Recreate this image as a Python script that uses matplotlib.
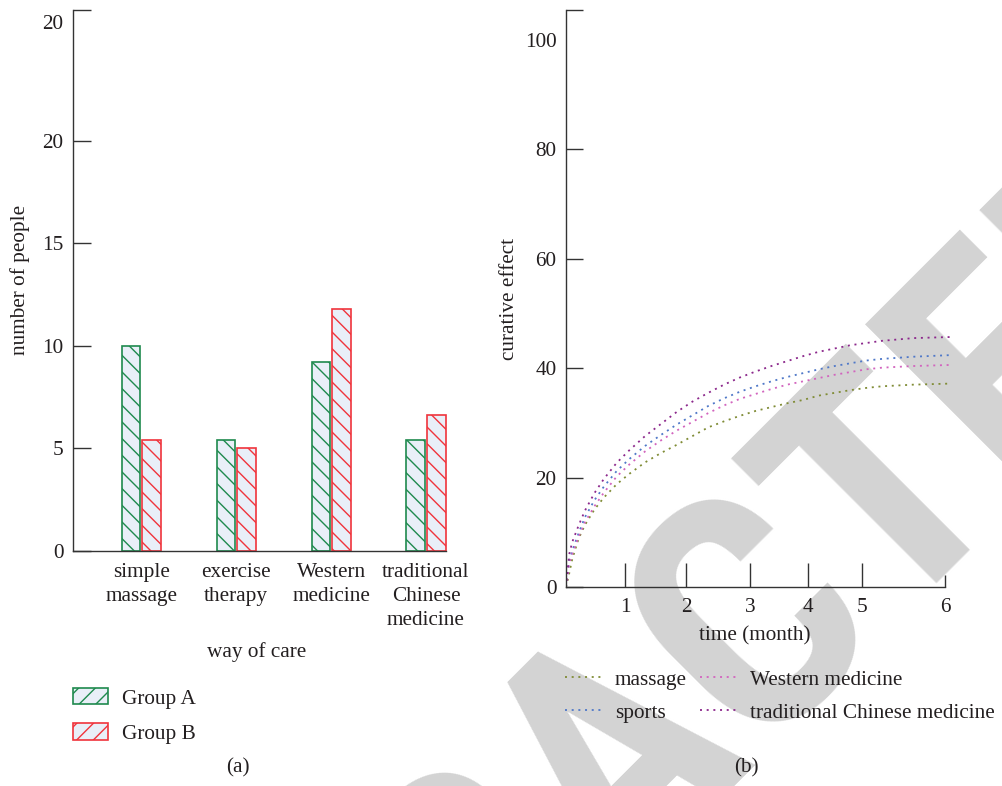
import os
import numpy as np
import matplotlib
matplotlib.use("Agg")
import matplotlib.pyplot as plt
from matplotlib.patches import Patch
from matplotlib import font_manager
from matplotlib.font_manager import FontProperties

plt.rcParams['font.family'] = ['Liberation Serif', 'DejaVu Serif']
plt.rcParams['font.size'] = 15.3
plt.rcParams['hatch.linewidth'] = 1.0
plt.rcParams['text.color'] = '#231f20'
plt.rcParams['axes.labelcolor'] = '#231f20'
plt.rcParams['xtick.color'] = '#333333'
plt.rcParams['ytick.color'] = '#333333'
plt.rcParams['xtick.labelcolor'] = '#231f20'
plt.rcParams['ytick.labelcolor'] = '#231f20'

# ---- panel (a): number of people per way of care ----
care_ways = ['simple\nmassage', 'exercise\ntherapy', 'Western\nmedicine',
             'traditional\nChinese\nmedicine']
group_a = [10.0, 5.4, 9.2, 5.4]
group_b = [5.4, 5.0, 11.8, 6.6]
count_ticks = [0, 5, 10, 15, 20, 25.8]
count_tick_labels = ['0', '5', '10', '15', '20', '20']

# ---- panel (b): curative effect over time ----
months = [0, 0.05, 0.1, 0.2, 0.3, 0.45, 0.6, 0.8, 1.0, 1.25, 1.5, 1.75, 2.0,
          2.25, 2.5, 2.75, 3.0, 3.25, 3.5, 3.75, 4.0, 4.25, 4.5, 4.75, 5.0,
          5.5, 6.1]
massage = [0, 2.5, 5.2, 8.9, 11.4, 14.2, 16.4, 18.8, 20.7, 22.8, 24.5, 26.0,
           27.6, 29.2, 30.3, 31.3, 32.2, 32.9, 33.6, 34.2, 35.0, 35.5, 36.0,
           36.4, 36.7, 37.0, 37.2]
sports = [0, 4.8, 6.7, 9.9, 12.8, 15.9, 18.4, 21.2, 23.4, 25.8, 27.8, 29.7,
          31.4, 33.1, 34.5, 35.7, 36.7, 37.6, 38.4, 39.1, 39.8, 40.4, 40.9,
          41.4, 41.7, 42.1, 42.4]
western = [0, 4.3, 6.1, 9.2, 11.9, 14.8, 17.3, 20.2, 22.4, 24.8, 26.8, 28.6,
           30.2, 31.8, 33.2, 34.4, 35.3, 36.2, 37.0, 37.6, 38.2, 38.8, 39.3,
           39.8, 40.1, 40.4, 40.6]
tcm = [0, 6.0, 8.3, 11.3, 14.0, 17.2, 19.8, 22.7, 25.0, 27.6, 29.8, 32.0,
       33.9, 35.5, 37.0, 38.3, 39.4, 40.4, 41.3, 42.2, 43.0, 43.6, 44.2, 44.6,
       45.0, 45.5, 45.7]
month_ticks = [0.934, 1.905, 2.91, 3.83, 4.69]
month_tick_labels = ['1', '2', '3', '4', '5']
effect_ticks = [0, 20, 40, 60, 80, 100]

GREEN = '#1f8a4e'
RED = '#f0343c'
FILL = '#e9eff8'
AXIS = '#333333'

W, H = 1002, 786
fig = plt.figure(figsize=(W / 100, H / 100), dpi=100)


def stamp_font():
    """Prefer a narrow bold sans for the stamp; fall back to a regular one."""
    for fam, stretch in (('Liberation Sans Narrow', 'normal'), ('Roboto Condensed', 'normal'),
                         ('Arial Narrow', 'normal'), ('Open Sans Condensed', 'normal'),
                         ('Roboto', 'condensed'), ('Noto Sans', 'condensed'),
                         ('DejaVu Sans', 'condensed')):
        try:
            path = font_manager.findfont(
                FontProperties(family=fam, weight='bold', stretch=stretch),
                fallback_to_default=False)
        except ValueError:
            continue
        name = os.path.basename(path).lower()
        if 'narrow' in name or 'condensed' in name:
            return fam, stretch
    return 'Liberation Sans', 'normal'


# Diagonal stamp behind both panels.  Letter height and letter spacing are
# balanced, then the word is slid along its 45-degree baseline so that the
# A, C, T and E land where they belong on the page.
stamp_word = 'RETRACTED'
stamp_family, stamp_stretch = stamp_font()
probe = FontProperties(family=stamp_family, weight='bold', stretch=stamp_stretch, size=100)
renderer = fig.canvas.get_renderer()


def ink_size(s):
    if not s:
        return 0.0, 0.0
    w, h, _ = renderer.get_text_width_height_descent(s, probe, ismath=False)
    return w, h


total_w = ink_size(stamp_word)[0]
centres = [(ink_size(stamp_word[:k])[0] + ink_size(stamp_word[:k + 1])[0]) / 2 - total_w / 2
           for k in range(len(stamp_word))]
cap_scale = 232.0 / ink_size('T')[1]
spacing_scale = 382.0 / (centres[6] - centres[4])
stamp_scale = (cap_scale * spacing_scale) ** 0.5
stamp_size = 100 * stamp_scale
# target letter centres along the baseline, measured from the foot of the second T
targets = {4: -382.0, 5: -183.0, 6: 0.0, 7: 190.0}
shift = np.mean([t - stamp_scale * centres[k] for k, t in targets.items()])
t_foot = (947.0, 555.5)
c = 0.7071
anchor_x = t_foot[0] + shift * c
anchor_y = t_foot[1] - shift * c
fig.text(anchor_x / W, 1 - anchor_y / H, stamp_word, rotation=45, rotation_mode='anchor',
         ha='center', va='baseline', fontsize=stamp_size, fontweight='bold',
         fontstretch=stamp_stretch, family=stamp_family, color='#d3d3d3', zorder=-1)

# ---------------- panel (a) ----------------
ax1 = fig.add_axes([73 / W, 1 - 550.7 / H, (446.5 - 73) / W, (550.7 - 10) / H])
ax1.set_facecolor('none')
x = np.arange(len(care_ways))
bw, off = 0.195, 0.108
ax1.bar(x - off, group_a, bw, facecolor=FILL, edgecolor=GREEN, hatch='\\\\',
        linewidth=1.2, zorder=2)
ax1.bar(x + off, group_b, bw, facecolor=FILL, edgecolor=RED, hatch='\\\\',
        linewidth=1.2, zorder=2)
ax1.set_xlim(-0.7185, 3.216)
ax1.set_ylim(0, 26.38)
for s in ('top', 'right'):
    ax1.spines[s].set_visible(False)
for s in ('left', 'bottom'):
    ax1.spines[s].set_color(AXIS)
    ax1.spines[s].set_linewidth(1.0)
ax1.set_xticks(x, care_ways)
for lbl in ax1.get_xticklabels():
    lbl.set_linespacing(1.38)
ax1.tick_params(axis='x', length=0, pad=8.5)
ax1.set_yticks(count_ticks, count_tick_labels)
ax1.set_yticks([26.38], minor=True)
ax1.tick_params(axis='y', which='both', direction='in', length=13, width=1.0, pad=7)
ax1.yaxis.get_major_ticks()[-1].tick1line.set_visible(False)
ax1.set_xlabel('way of care', va='center')
ax1.xaxis.set_label_coords((257 - 73) / (446.5 - 73), -(652 - 550.7) / (550.7 - 10))
ax1.set_ylabel('number of people', va='center')
ax1.yaxis.set_label_coords((20 - 73) / (446.5 - 73), 0.5)

leg_handles = [Patch(facecolor=FILL, edgecolor=GREEN, hatch='//', linewidth=1.2),
               Patch(facecolor=FILL, edgecolor=RED, hatch='//', linewidth=1.2)]
fig.legend(leg_handles, ['Group A', 'Group B'], loc='upper left',
           bbox_to_anchor=(73 / W, 1 - 688 / H), frameon=False, borderpad=0,
           borderaxespad=0, handlelength=1.65, handleheight=0.8,
           handletextpad=0.64, labelspacing=0.7)
fig.text(238 / W, 1 - 768 / H, '(a)', ha='center', va='center')

# ---------------- panel (b) ----------------
ax2 = fig.add_axes([566 / W, 1 - 587.3 / H, (952.8 - 566) / W, (587.3 - 10) / H])
ax2.set_facecolor('none')
dots = (0, (1.1, 2.6))
ax2.plot(months, massage, color='#808c36', ls=dots, lw=1.3, label='massage')
ax2.plot(months, sports, color='#4f78c8', ls=dots, lw=1.3, label='sports')
ax2.plot(months, western, color='#d264be', ls=dots, lw=1.3, label='Western medicine')
ax2.plot(months, tcm, color='#8c288c', ls=dots, lw=1.3,
         label='traditional Chinese medicine')
ax2.set_xlim(0, 6.12)
ax2.set_ylim(0, 105.4)
for s in ('top', 'right'):
    ax2.spines[s].set_visible(False)
for s in ('left', 'bottom'):
    ax2.spines[s].set_color(AXIS)
    ax2.spines[s].set_linewidth(1.0)
ax2.spines['bottom'].set_bounds(0, 6.0)
ax2.set_xticks(month_ticks, month_tick_labels)
ax2.set_xticks([6.0], ['6'], minor=True)
ax2.tick_params(axis='x', which='major', direction='in', length=17, width=1.0, pad=7.5)
ax2.tick_params(axis='x', which='minor', direction='in', length=9, width=1.0, pad=7.5)
ax2.set_yticks(effect_ticks)
ax2.set_yticks([105.4], minor=True)
ax2.tick_params(axis='y', which='both', direction='in', length=12, width=1.0, pad=7)
ax2.yaxis.get_major_ticks()[-1].tick1line.set_visible(False)
ax2.set_xlabel('time (month)', va='center')
ax2.xaxis.set_label_coords((755 - 566) / (952.8 - 566), -(636 - 587.3) / (587.3 - 10))
ax2.set_ylabel('curative effect', va='center')
ax2.yaxis.set_label_coords((509 - 566) / (952.8 - 566), 0.5)

fig.legend(loc='upper left', bbox_to_anchor=(565 / W, 1 - 670 / H), ncol=2,
           handles=ax2.get_lines(), frameon=False, borderpad=0, borderaxespad=0,
           handlelength=1.74, handletextpad=0.6, columnspacing=0.62,
           labelspacing=0.62)
fig.text(746 / W, 1 - 768 / H, '(b)', ha='center', va='center')

fig.savefig('out.png', dpi=100)
